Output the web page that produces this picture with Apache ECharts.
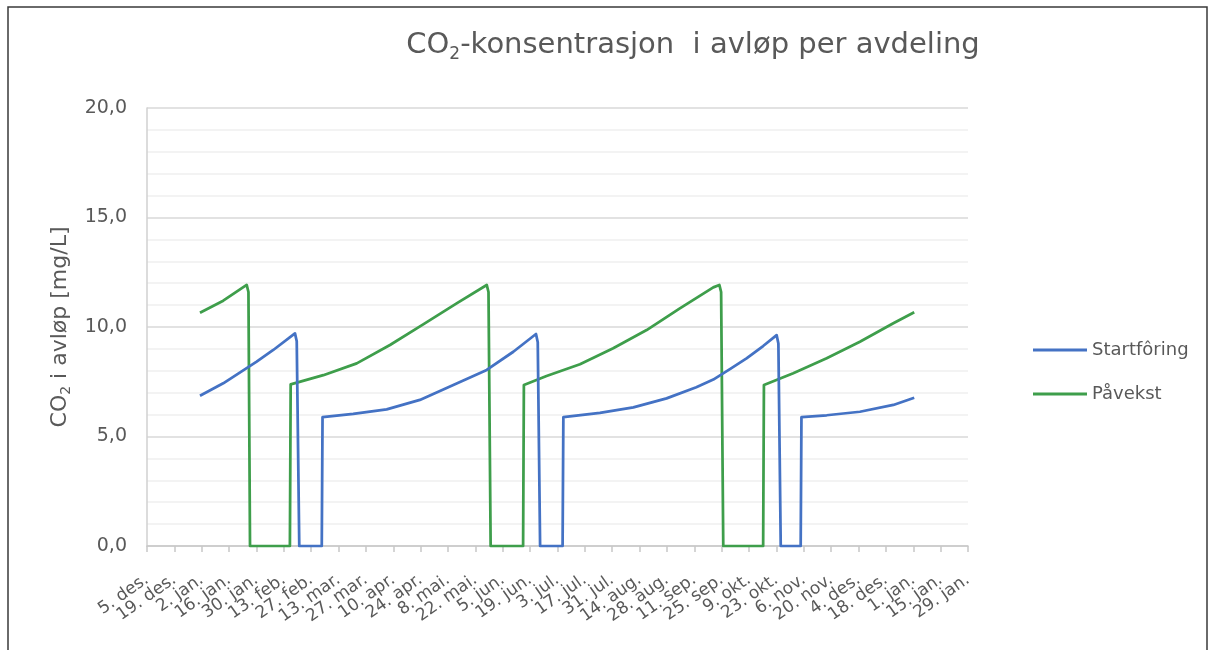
<!DOCTYPE html>
<html>
<head>
<meta charset="utf-8">
<script src="https://cdn.jsdelivr.net/npm/echarts@6/dist/echarts.min.js"></script>
<style>
  html, body { margin: 0; padding: 0; background: #fff; }
  #chart { width: 1217px; height: 650px; }
</style>
</head>
<body>
<div id="chart"></div>
<script>
// Tick labels every 14 days, starting 5. des.
const tickLabels = [
  '5. des.', '19. des.', '2. jan.', '16. jan.', '30. jan.', '13. feb.', '27. feb.',
  '13. mar.', '27. mar.', '10. apr.', '24. apr.', '8. mai.', '22. mai.', '5. jun.',
  '19. jun.', '3. jul.', '17. jul.', '31. jul.', '14. aug.', '28. aug.', '11. sep.',
  '25. sep.', '9. okt.', '23. okt.', '6. nov.', '20. nov.', '4. des.', '18. des.',
  '1. jan.', '15. jan.', '29. jan.'
];
const tickStep = 14; // days between ticks

// [days since 5. des., CO2 mg/L]
const startforing = [
  [27.1, 6.86], [39, 7.43], [56.1, 8.42], [64.6, 8.95], [75.7, 9.71], [76.6, 9.35],
  [77.9, 0], [89.4, 0], [89.8, 5.88], [105.5, 6.03], [122.6, 6.24], [139.6, 6.67],
  [156.7, 7.35], [173.8, 8.04], [187.4, 8.87], [199, 9.68], [199.9, 9.3],
  [201.1, 0], [212.6, 0], [213, 5.88], [231.7, 6.08], [248.8, 6.33], [265.8, 6.74],
  [281, 7.25], [289.7, 7.6], [298.2, 8.08], [306.7, 8.57], [315.2, 9.13],
  [322.1, 9.63], [323, 9.25], [324.2, 0], [334.4, 0], [334.8, 5.88],
  [347.7, 5.97], [364.7, 6.13], [381.8, 6.44], [392.5, 6.77]
];
const pavekst = [
  [27.1, 10.65], [39, 11.2], [51, 11.92], [51.9, 11.6], [52.7, 0], [73.1, 0],
  [73.5, 7.38], [90.2, 7.8], [107.3, 8.34], [124.3, 9.18], [141.3, 10.12],
  [158.4, 11.08], [173.8, 11.92], [174.7, 11.6], [175.8, 0], [192.4, 0],
  [192.8, 7.35], [204.4, 7.76], [221.5, 8.3], [238.5, 9.03], [255.6, 9.86],
  [272.6, 10.85], [289.7, 11.81], [292.8, 11.92], [293.7, 11.6], [294.8, 0],
  [315.2, 0], [315.6, 7.35], [330.6, 7.89], [347.7, 8.57], [364.7, 9.33],
  [381.8, 10.17], [392.5, 10.67]
];

const textColor = '#595959';
const font = 'DejaVu Sans';
const axisGray = '#c8c8c8';

// The crowded date labels are split over two overlaid axes (even / odd ticks),
// so that the min/max label check never drops a neighbouring label.
function dateAxis(parity, showLine) {
  return {
    type: 'value',
    position: 'bottom',
    min: 0,
    max: tickStep * (tickLabels.length - 1),
    interval: tickStep,
    axisLine: { show: showLine, onZero: false, lineStyle: { color: axisGray, width: 1.5 } },
    axisTick: { show: showLine, length: 6, lineStyle: { color: axisGray, width: 1.5 } },
    splitLine: { show: false },
    axisLabel: {
      rotate: 35,
      margin: 32,
      showMinLabel: true,
      showMaxLabel: true,
      hideOverlap: false,
      fontFamily: font,
      fontSize: 17,
      color: textColor,
      formatter: function (v) {
        const i = Math.round(v / tickStep);
        return i % 2 === parity ? (tickLabels[i] || '') : '';
      }
    }
  };
}

const chart = echarts.init(document.getElementById('chart'), null, { renderer: 'canvas' });

chart.setOption({
  backgroundColor: '#ffffff',
  animation: false,
  title: {
    text: '{a|CO}{s|2}{a|-konsentrasjon  i avløp per avdeling}',
    left: 688,
    textAlign: 'center',
    top: 22,
    textStyle: {
      fontWeight: 'normal',
      rich: {
        a: { fontFamily: font, fontSize: 29, fontWeight: 'normal', color: textColor, lineHeight: 36 },
        s: { fontFamily: font, fontSize: 17, fontWeight: 'normal', color: textColor, lineHeight: 18, verticalAlign: 'bottom' }
      }
    }
  },
  legend: {
    orient: 'vertical',
    left: 1028,
    top: 335,
    itemGap: 24,
    icon: 'rect',
    itemWidth: 54,
    itemHeight: 3,
    textStyle: { fontFamily: font, fontSize: 18, color: textColor, lineHeight: 20 },
    data: ['Startfôring', 'Påvekst']
  },
  grid: { left: 147, right: 249, top: 108, bottom: 104, containLabel: false },
  xAxis: [dateAxis(0, true), dateAxis(1, false)],
  yAxis: {
    type: 'value',
    min: 0,
    max: 20,
    interval: 5,
    name: '{a|CO}{s|2}{a| i avløp [mg/L]}',
    nameLocation: 'middle',
    nameRotate: 90,
    nameGap: 72,
    nameTextStyle: {
      rich: {
        a: { fontFamily: font, fontSize: 22, color: textColor, lineHeight: 27 },
        s: { fontFamily: font, fontSize: 14, color: textColor, lineHeight: 14, verticalAlign: 'bottom' }
      }
    },
    axisLine: { show: true, lineStyle: { color: '#d0d0d0', width: 1.5 } },
    axisTick: { show: false },
    axisLabel: {
      margin: 20,
      fontFamily: font,
      fontSize: 19,
      color: textColor,
      formatter: function (v) { return v.toFixed(1).replace('.', ','); }
    },
    splitLine: { show: true, lineStyle: { color: '#d9d9d9', width: 1.5 } },
    minorTick: { show: false, splitNumber: 5 },
    minorSplitLine: { show: true, lineStyle: { color: '#f0f0f0', width: 1.5 } }
  },
  series: [
    {
      name: 'Startfôring',
      type: 'line',
      xAxisIndex: 0,
      data: startforing,
      showSymbol: false,
      symbol: 'none',
      smooth: false,
      lineStyle: { color: '#4472C4', width: 2.75, join: 'round' },
      itemStyle: { color: '#4472C4' },
      z: 3
    },
    {
      name: 'Påvekst',
      type: 'line',
      xAxisIndex: 0,
      data: pavekst,
      showSymbol: false,
      symbol: 'none',
      smooth: false,
      lineStyle: { color: '#3E9E4B', width: 2.75, join: 'round' },
      itemStyle: { color: '#3E9E4B' },
      z: 2
    }
  ],
  graphic: [
    {
      type: 'rect',
      silent: true,
      shape: { x: 8, y: 7, width: 1199, height: 700 },
      style: { fill: 'none', stroke: '#3a3a3a', lineWidth: 1.5 }
    }
  ]
});
</script>
</body>
</html>
